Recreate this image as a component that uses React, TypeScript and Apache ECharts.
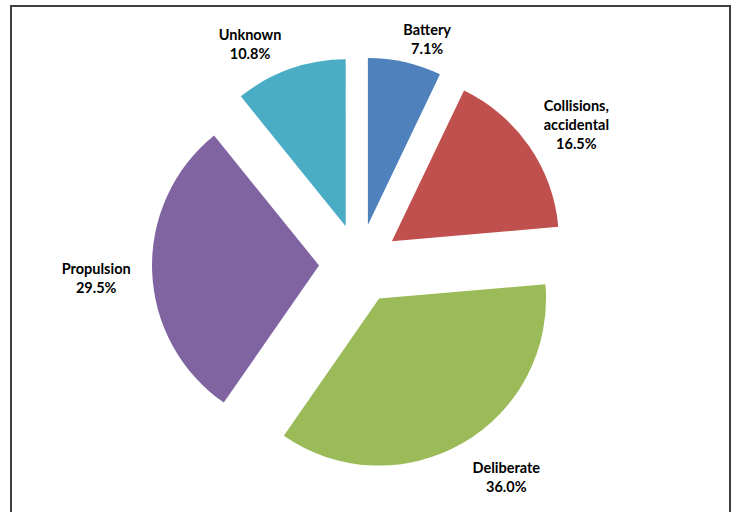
import React, { useEffect, useRef } from "react";
import * as echarts from "echarts";

const categories = ["Battery", "Collisions, accidental", "Deliberate", "Propulsion", "Unknown"];
const shares = [7.1, 16.5, 36.0, 29.5, 10.8];
const sliceColors = ["#4F81BD", "#C0504D", "#9BBB59", "#8064A2", "#4BACC6"];

const CENTER: [number, number] = [359, 264];
const RADIUS = 167;
const EXPLODE = 40;
const LABEL_R = 200;
// layout nudges for label placement (pixels)
const LABEL_NUDGE: [number, number][] = [
  [15, 9],
  [20, -3],
  [27, 5],
  [-23, 5],
  [-29, 6],
];

export default function App() {
  const ref = useRef<HTMLDivElement>(null);
  useEffect(() => {
    const chart = echarts.init(ref.current!, null, { renderer: "svg" });
    const total = shares.reduce((a, b) => a + b, 0);
    let acc = 0;
    const labels = shares.map((v, i) => {
      const a = ((acc + v / 2) / total) * 2 * Math.PI;
      acc += v;
      const ux = Math.sin(a);
      const uy = -Math.cos(a);
      const x = CENTER[0] + (EXPLODE + LABEL_R) * ux + LABEL_NUDGE[i][0];
      const y = CENTER[1] + (EXPLODE + LABEL_R) * uy + LABEL_NUDGE[i][1];
      return {
        type: "text",
        silent: true,
        x,
        y,
        style: {
          text: `${categories[i].replace(", ", ",\n")}\n${v.toFixed(1)}%`,
          fontFamily: "Lato",
          fontWeight: "bold",
          fontSize: 14.5,
          lineHeight: 19,
          fill: "#000000",
          align: "center",
          verticalAlign: "middle",
        },
      };
    });
    chart.setOption({
      animation: false,
      backgroundColor: "#ffffff",
      graphic: [
        {
          type: "rect",
          silent: true,
          shape: { x: 11, y: 6, width: 719, height: 540 },
          style: { fill: "none", stroke: "#404040", lineWidth: 2 },
        },
        ...labels,
      ],
      series: [
        {
          type: "pie",
          center: CENTER,
          radius: RADIUS,
          startAngle: 90,
          clockwise: true,
          selectedMode: "multiple",
          selectedOffset: EXPLODE,
          avoidLabelOverlap: false,
          emphasis: { disabled: true },
          label: { show: false },
          labelLine: { show: false },
          data: categories.map((name, i) => ({
            name,
            value: shares[i],
            selected: true,
            itemStyle: { color: sliceColors[i] },
          })),
        },
      ],
    });
    return () => chart.dispose();
  }, []);
  return (
    <div
      ref={ref}
      style={{ position: "absolute", left: 0, top: 0, width: 737, height: 512 }}
    />
  );
}
